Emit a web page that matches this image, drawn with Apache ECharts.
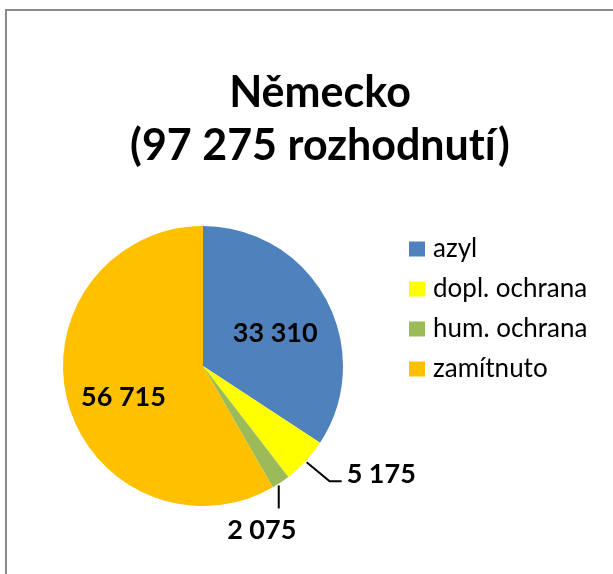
<!DOCTYPE html>
<html>
<head>
<meta charset="utf-8">
<script src="https://cdn.jsdelivr.net/npm/echarts@6/dist/echarts.min.js"></script>
<style>
html, body { margin: 0; padding: 0; background: #fff; }
#container { width: 613px; height: 574px; }
</style>
</head>
<body>
<div id="container"></div>
<script>
var categories = ['azyl', 'dopl. ochrana', 'hum. ochrana', 'zamítnuto'];
var values = [33310, 5175, 2075, 56715];
var colors = ['#4F81BD', '#FFFF00', '#9BBB59', '#FFC000'];
var labelPos = ['inside', 'outside', 'outside', 'inside'];

function fmt(n) {
    return String(n).replace(/\B(?=(\d{3})+(?!\d))/g, ' ');
}

var dom = document.getElementById('container');
var myChart = echarts.init(dom);

var data = values.map(function (v, i) {
    return {
        value: v,
        name: categories[i],
        itemStyle: { color: colors[i] },
        label: { position: labelPos[i] }
    };
});

var option = {
    animation: false,
    title: {
        // ZWNJ keeps Lato from joining "tí" into a ligature
        text: 'Německo\n(97 275 rozhodnut\u200Cí)',
        left: 315,
        textAlign: 'center',
        top: 62,
        textStyle: {
            fontFamily: 'Lato',
            fontWeight: 'bold',
            fontSize: 43,
            lineHeight: 53,
            color: '#000'
        }
    },
    legend: {
        orient: 'vertical',
        left: 409,
        top: 236,
        padding: 0,
        icon: 'rect',
        itemWidth: 16,
        itemHeight: 15,
        itemGap: 14,
        data: categories,
        textStyle: {
            fontFamily: 'Lato',
            fontSize: 26,
            lineHeight: 26,
            padding: [0, 0, 0, 3],
            color: '#000'
        }
    },
    graphic: [{
        type: 'rect',
        shape: { x: 6, y: 10, width: 640, height: 600 },
        style: { fill: 'none', stroke: '#8a8a8a', lineWidth: 2 },
        silent: true
    }],
    series: [{
        name: 'rozhodnutí',
        type: 'pie',
        center: [203, 366],
        radius: 140,
        startAngle: 90,
        clockwise: true,
        avoidLabelOverlap: false,
        label: {
            formatter: function (p) { return fmt(p.value); },
            fontFamily: 'Lato',
            fontWeight: 'bold',
            fontSize: 27,
            color: '#000'
        },
        labelLine: {
            length: 32,
            length2: 12,
            lineStyle: { color: '#000', width: 2 }
        },
        labelLayout: function (params) {
            var i = params.dataIndex;
            if (i === 0) {
                return { dx: 8, dy: 2 };
            }
            if (i === 3) {
                return { dx: -9, dy: 12 };
            }
            var p0 = params.labelLinePoints && params.labelLinePoints[0];
            if (!p0) {
                return;
            }
            if (i === 1) {
                return {
                    x: p0[0] + 41,
                    y: p0[1] + 13,
                    align: 'left',
                    verticalAlign: 'middle',
                    labelLinePoints: [[p0[0] + 1, p0[1] + 1], [p0[0] + 24, p0[1] + 20], [p0[0] + 36, p0[1] + 20]]
                };
            }
            if (i === 2) {
                return {
                    x: p0[0] - 19,
                    y: p0[1] + 48,
                    align: 'center',
                    verticalAlign: 'middle',
                    labelLinePoints: [[p0[0] - 2, p0[1] + 3], [p0[0] - 2, p0[1] + 26], [p0[0] - 2, p0[1] + 26]]
                };
            }
        },
        data: data
    }]
};

if (option && typeof option === 'object') {
    myChart.setOption(option, true);
}
</script>
</body>
</html>
